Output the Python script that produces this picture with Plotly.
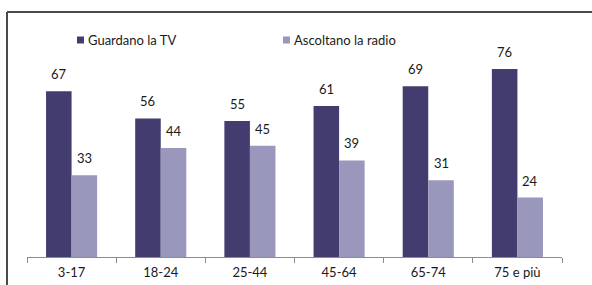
import plotly.graph_objects as go

categories = ["3-17", "18-24", "25-44", "45-64", "65-74", "75 e più"]
tv_values = [67, 56, 55, 61, 69, 76]
radio_values = [33, 44, 45, 39, 31, 24]
series_names = ["Guardano la TV", "Ascoltano la radio"]

DARK = "#433D6F"
LIGHT = "#9A97BD"
FONT = "Lato, 'Open Sans', sans-serif"

W, H = 592, 285
ML, MR, MT, MB = 27, 30, 59, 28
PW = W - ML - MR
PH = H - MT - MB


def px_x(x):
    return (x - ML) / PW


def px_y(y):
    return (H - MB - y) / PH


fig = go.Figure()
fig.add_trace(go.Bar(x=categories, y=tv_values, name=series_names[0],
                     marker=dict(color=DARK, line=dict(width=0))))
fig.add_trace(go.Bar(x=categories, y=radio_values, name=series_names[1],
                     marker=dict(color=LIGHT, line=dict(width=0))))

bargap = 0.427
bar_px = PW / len(categories) * (1 - bargap) / 2
annotations = []
for vals, sh in ((tv_values, -bar_px / 2), (radio_values, bar_px / 2)):
    for c, v in zip(categories, vals):
        annotations.append(dict(x=c, y=v, xref="x", yref="y", text=str(v),
                                showarrow=False, xshift=sh, yshift=7,
                                yanchor="bottom",
                                font=dict(family=FONT, size=13, color="#1a1a1a")))

# manual legend
for name, col, x0 in ((series_names[0], DARK, 77), (series_names[1], LIGHT, 283)):
    fig.add_shape(type="rect", xref="paper", yref="paper",
                  x0=px_x(x0), x1=px_x(x0 + 7), y0=px_y(43.5), y1=px_y(36.5),
                  fillcolor=col, line=dict(width=0))
    annotations.append(dict(x=px_x(x0 + 9), y=px_y(40), xref="paper", yref="paper",
                            text=name, showarrow=False, xanchor="left",
                            yanchor="middle",
                            font=dict(family=FONT, size=13, color="#1a1a1a")))

# outer frame (top and left edges visible)
fig.add_shape(type="line", xref="paper", yref="paper",
              x0=px_x(7), x1=px_x(W + 5), y0=px_y(12), y1=px_y(12),
              line=dict(color="#4a4a4a", width=2))
fig.add_shape(type="line", xref="paper", yref="paper",
              x0=px_x(7), x1=px_x(7), y0=px_y(12), y1=px_y(H + 5),
              line=dict(color="#4a4a4a", width=2))

fig.update_layout(
    width=W, height=H,
    margin=dict(l=ML, r=MR, t=MT, b=MB, pad=0),
    paper_bgcolor="white", plot_bgcolor="white",
    barmode="group", bargap=bargap, bargroupgap=0,
    showlegend=False,
    annotations=annotations,
    font=dict(family=FONT, size=13, color="#1a1a1a"),
    xaxis=dict(showline=True, linecolor="#8c8c8c", linewidth=1,
               ticks="outside", tickson="boundaries", ticklen=5,
               tickcolor="#8c8c8c", showgrid=False, ticklabelstandoff=3,
               automargin=False,
               tickfont=dict(family=FONT, size=13, color="#1a1a1a")),
    yaxis=dict(range=[0, 80], visible=False, showgrid=False, zeroline=False),
)

fig.write_html("out.html", config={"displayModeBar": False},
               post_script="document.body.style.margin='0';"
                           "document.body.style.overflow='hidden';")
